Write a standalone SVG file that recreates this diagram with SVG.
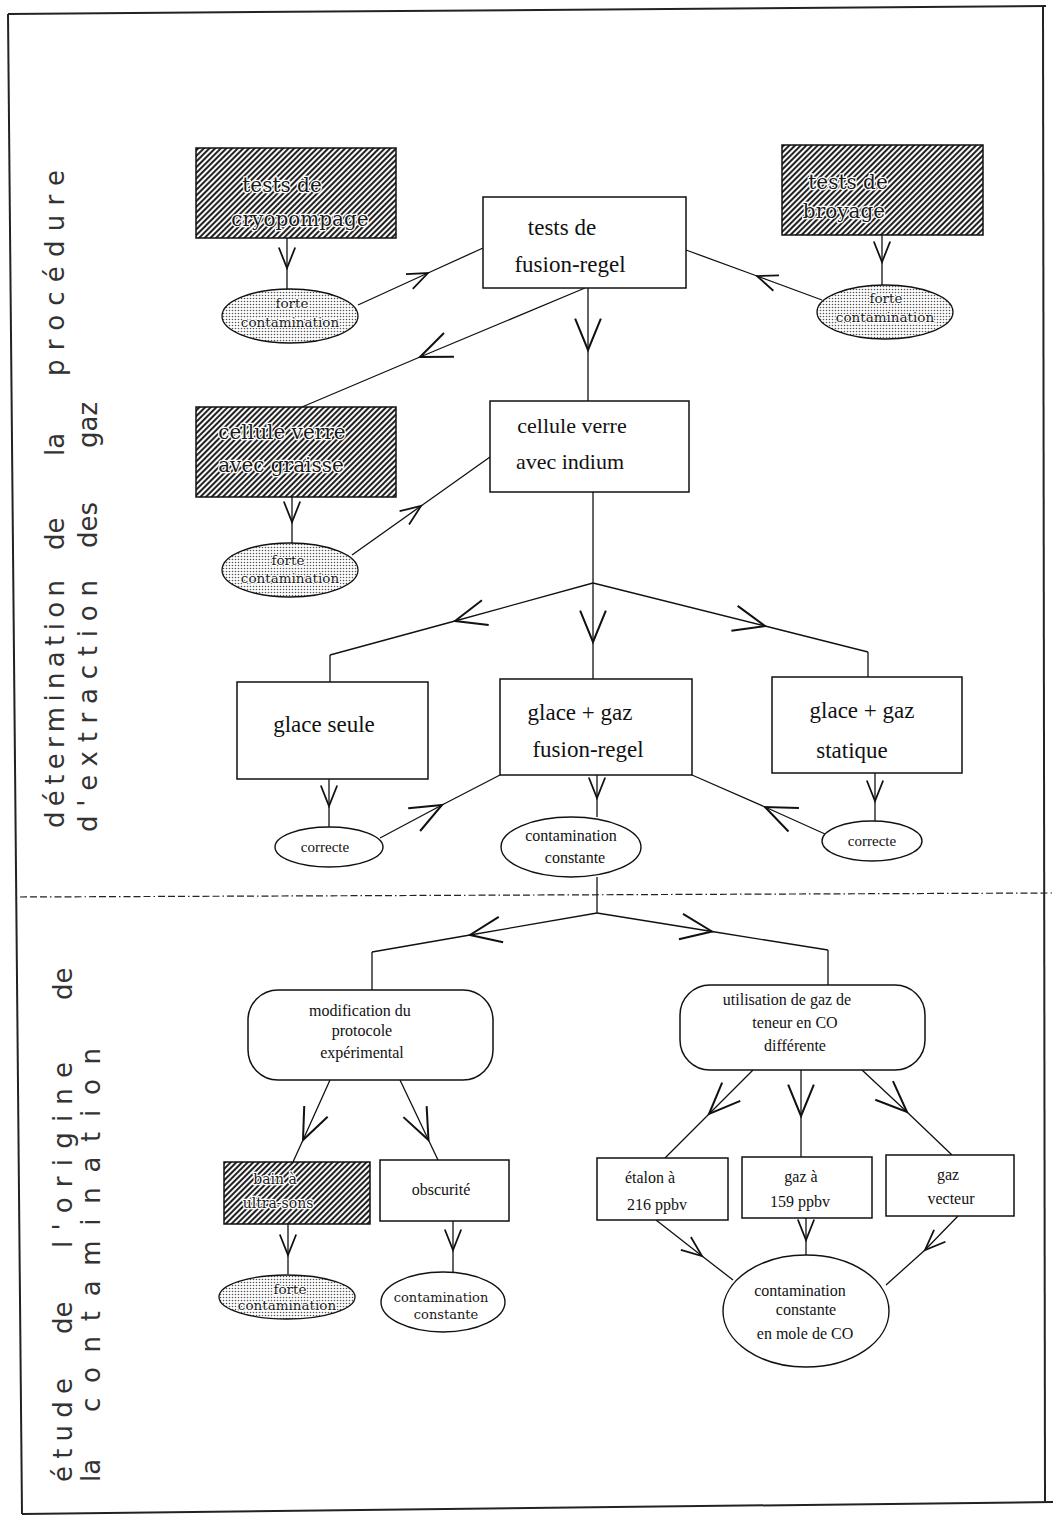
<svg xmlns="http://www.w3.org/2000/svg" width="1053" height="1517" viewBox="0 0 1053 1517">
<defs>
<pattern id="hatch" patternUnits="userSpaceOnUse" width="4" height="4" patternTransform="rotate(45)">
<rect width="4" height="4" fill="#fff"/>
<line x1="1" y1="0" x2="1" y2="4" stroke="#222" stroke-width="2.1"/>
</pattern>
<pattern id="dots" patternUnits="userSpaceOnUse" width="3" height="3">
<rect width="3" height="3" fill="#fff"/>
<circle cx="1.5" cy="1.5" r="0.8" fill="#555"/>
</pattern>
<marker id="v" markerUnits="userSpaceOnUse" markerWidth="30" markerHeight="30" refX="0" refY="0" viewBox="-20 -10 22 20" orient="auto" overflow="visible">
<path d="M-15,-6 L0,0 L-15,6" fill="none" stroke="#111" stroke-width="1.3"/>
</marker>
<marker id="vl" markerUnits="userSpaceOnUse" markerWidth="40" markerHeight="40" refX="0" refY="0" viewBox="-26 -12 28 24" orient="auto" overflow="visible">
<path d="M-22,-9 L0,0 L-22,9" fill="none" stroke="#111" stroke-width="1.4"/>
</marker>
</defs>
<style>
.box{fill:#fff;stroke:#111;stroke-width:1.5}
.hbox{fill:url(#hatch);stroke:#111;stroke-width:1.5}
.dell{fill:url(#dots);stroke:#111;stroke-width:1.3}
.ell{fill:#fff;stroke:#111;stroke-width:1.4}
.t{font-family:"Liberation Serif","Times New Roman",serif;fill:#111;text-anchor:middle}
.tw{font-family:"DejaVu Serif","Liberation Serif",serif;fill:#1a1a1a;text-anchor:middle;stroke:#fff;stroke-width:2.5;paint-order:stroke;stroke-linejoin:round}
.td{font-family:"DejaVu Serif","Liberation Serif",serif;fill:#1a1a1a;text-anchor:middle;stroke:#fff;stroke-width:2;paint-order:stroke;stroke-linejoin:round}
.side{font-family:"DejaVu Sans","Open Sans",sans-serif;font-size:26px;fill:#333}
.c{fill:none;stroke:#111;stroke-width:1.3}
.a{marker-mid:url(#v)}
.al{marker-mid:url(#vl)}
</style>

<g id="frame" fill="none" stroke="#222" stroke-width="2">
<path d="M8,14 L1046,6"/>
<path d="M8,14 L22,1514"/>
<path d="M1043,6 L1045,1503"/>
<path d="M22,1514 L1053,1502"/>
<path d="M20,897 L1053,893" stroke-width="1.2" stroke-dasharray="7 3 7 3 7 3 1.5 3"/>
</g>

<g id="side-labels" class="side">
<text transform="translate(64,828) rotate(-90)" textLength="248" lengthAdjust="spacing">détermination</text>
<text transform="translate(64,550) rotate(-90)">de</text>
<text transform="translate(64,456) rotate(-90)">la</text>
<text transform="translate(64,376) rotate(-90)" textLength="206" lengthAdjust="spacing">procédure</text>
<text transform="translate(97,832) rotate(-90)" textLength="252" lengthAdjust="spacing">d'extraction</text>
<text transform="translate(97,548) rotate(-90)">des</text>
<text transform="translate(97,448) rotate(-90)">gaz</text>
<text transform="translate(72,1482) rotate(-90)" textLength="104" lengthAdjust="spacing">étude</text>
<text transform="translate(72,1334) rotate(-90)">de</text>
<text transform="translate(72,1248) rotate(-90)" textLength="186" lengthAdjust="spacing">l'origine</text>
<text transform="translate(72,1000) rotate(-90)">de</text>
<text transform="translate(100,1482) rotate(-90)">la</text>
<text transform="translate(100,1412) rotate(-90)" textLength="364" lengthAdjust="spacing">contamination</text>
</g>

<g id="connectors">
<path class="c a" d="M287,238 L287,268 L287,290"/>
<path class="c a" d="M358,305 L428,273 L483,248"/>
<path class="c a" d="M882,235 L882,262 L882,285"/>
<path class="c a" d="M822,300 L757,276 L686,250"/>
<path class="c al" d="M588,288 L588,350 L588,401"/>
<path class="c al" d="M585,288 L420,357 L302,407"/>
<path class="c a" d="M292,497 L292,522 L292,543"/>
<path class="c a" d="M352,555 L421,506 L490,457"/>
<path class="c" d="M593,492 L593,583"/>
<path class="c al" d="M593,583 L593,642 L593,680"/>
<path class="c al" d="M593,583 L455,621 L330,655"/>
<path class="c" d="M330,655 L330,682"/>
<path class="c al" d="M593,583 L765,626 L868,652"/>
<path class="c" d="M868,652 L868,677"/>
<path class="c a" d="M329,779 L329,806 L329,827"/>
<path class="c al" d="M380,838 L442,805 L500,775"/>
<path class="c a" d="M597,775 L597,798 L597,817"/>
<path class="c al" d="M825,834 L765,807 L692,775"/>
<path class="c a" d="M875,773 L875,801 L875,821"/>
<path class="c" d="M597,877 L597,913"/>
<path class="c al" d="M597,913 L470,935 L372,952"/>
<path class="c" d="M372,952 L372,990"/>
<path class="c al" d="M597,913 L712,931.5 L828,950"/>
<path class="c" d="M828,950 L828,985"/>
<path class="c al" d="M330,1080 L303,1140 L293,1162"/>
<path class="c al" d="M400,1080 L428.5,1140 L438,1160"/>
<path class="c a" d="M288,1224 L288,1255 L288,1274"/>
<path class="c a" d="M453,1221 L453,1250 L453,1272"/>
<path class="c al" d="M753,1070 L709,1114 L665,1158"/>
<path class="c al" d="M801,1070 L801,1116 L801,1157"/>
<path class="c al" d="M862,1070 L907,1112 L952,1155"/>
<path class="c a" d="M656,1220 L702,1256 L733,1280"/>
<path class="c a" d="M806,1218 L806,1240 L806,1255"/>
<path class="c a" d="M958,1216 L925,1250 L886,1285"/>
</g>

<g id="n-cryo">
<rect class="hbox" x="196" y="148" width="200" height="90"/>
<text class="tw" x="282" y="192" font-size="20">tests de</text>
<text class="tw" x="300" y="226" font-size="20">cryopompage</text>
</g>
<g id="n-fc1">
<ellipse class="dell" cx="290" cy="316" rx="68" ry="27"/>
<text class="td" x="292" y="308" font-size="13.5">forte</text>
<text class="td" x="290" y="327" font-size="13.5">contamination</text>
</g>
<g id="n-fusion">
<rect class="box" x="483" y="197" width="203" height="91"/>
<text class="t" x="562" y="235" font-size="23">tests de</text>
<text class="t" x="570" y="272" font-size="23">fusion-regel</text>
</g>
<g id="n-broyage">
<rect class="hbox" x="782" y="145" width="201" height="90"/>
<text class="tw" x="848" y="189" font-size="20">tests de</text>
<text class="tw" x="844" y="218" font-size="20">broyage</text>
</g>
<g id="n-fc2">
<ellipse class="dell" cx="885" cy="312" rx="68" ry="27"/>
<text class="td" x="886" y="303" font-size="13.5">forte</text>
<text class="td" x="885" y="322" font-size="13.5">contamination</text>
</g>
<g id="n-graisse">
<rect class="hbox" x="196" y="407" width="200" height="90"/>
<text class="tw" x="282" y="439" font-size="20">cellule verre</text>
<text class="tw" x="281" y="472" font-size="20">avec graisse</text>
</g>
<g id="n-fc3">
<ellipse class="dell" cx="290" cy="570" rx="68" ry="27"/>
<text class="td" x="288" y="565" font-size="13.5">forte</text>
<text class="td" x="290" y="583" font-size="13.5">contamination</text>
</g>
<g id="n-indium">
<rect class="box" x="490" y="401" width="199" height="91"/>
<text class="t" x="572" y="433" font-size="22">cellule verre</text>
<text class="t" x="570" y="469" font-size="22">avec indium</text>
</g>
<g id="n-seule">
<rect class="box" x="237" y="682" width="191" height="97"/>
<text class="t" x="324" y="732" font-size="23">glace seule</text>
</g>
<g id="n-gfr">
<rect class="box" x="500" y="679" width="192" height="96"/>
<text class="t" x="580" y="720" font-size="23">glace + gaz</text>
<text class="t" x="588" y="757" font-size="23">fusion-regel</text>
</g>
<g id="n-gst">
<rect class="box" x="772" y="677" width="190" height="96"/>
<text class="t" x="862" y="718" font-size="23">glace + gaz</text>
<text class="t" x="852" y="758" font-size="23">statique</text>
</g>
<g id="n-cor1">
<ellipse class="ell" cx="329" cy="847" rx="54" ry="20"/>
<text class="t" x="325" y="852" font-size="15">correcte</text>
</g>
<g id="n-cc1">
<ellipse class="ell" cx="571" cy="847" rx="70" ry="30"/>
<text class="t" x="571" y="841" font-size="16">contamination</text>
<text class="t" x="575" y="863" font-size="16">constante</text>
</g>
<g id="n-cor2">
<ellipse class="ell" cx="872" cy="841" rx="50" ry="20"/>
<text class="t" x="872" y="846" font-size="15">correcte</text>
</g>
<g id="n-modif">
<rect class="box" x="248" y="990" width="245" height="90" rx="30"/>
<text class="t" x="360" y="1016" font-size="16">modification du</text>
<text class="t" x="362" y="1036" font-size="16">protocole</text>
<text class="t" x="362" y="1058" font-size="16">expérimental</text>
</g>
<g id="n-util">
<rect class="box" x="680" y="985" width="245" height="85" rx="30"/>
<text class="t" x="787" y="1005" font-size="16">utilisation de gaz de</text>
<text class="t" x="795" y="1028" font-size="16">teneur en CO</text>
<text class="t" x="795" y="1051" font-size="16">différente</text>
</g>
<g id="n-bain">
<rect class="hbox" x="224" y="1162" width="146" height="62"/>
<text class="tw" x="275" y="1184" font-size="14">bain à</text>
<text class="tw" x="278" y="1208" font-size="14">ultra-sons</text>
</g>
<g id="n-obsc">
<rect class="box" x="380" y="1160" width="129" height="61"/>
<text class="t" x="441" y="1195" font-size="16">obscurité</text>
</g>
<g id="n-fc4">
<ellipse class="dell" cx="287" cy="1297" rx="68" ry="22"/>
<text class="td" x="290" y="1294" font-size="13.5">forte</text>
<text class="td" x="287" y="1310" font-size="13.5">contamination</text>
</g>
<g id="n-cc2">
<ellipse class="ell" cx="443" cy="1302" rx="62" ry="30"/>
<text class="td" x="441" y="1302" font-size="13">contamination</text>
<text class="td" x="446" y="1319" font-size="13">constante</text>
</g>
<g id="n-etalon">
<rect class="box" x="597" y="1158" width="131" height="62"/>
<text class="t" x="650" y="1183" font-size="16">étalon à</text>
<text class="t" x="657" y="1210" font-size="16">216 ppbv</text>
</g>
<g id="n-gaz159">
<rect class="box" x="742" y="1157" width="130" height="61"/>
<text class="t" x="801" y="1182" font-size="16">gaz à</text>
<text class="t" x="800" y="1207" font-size="16">159 ppbv</text>
</g>
<g id="n-vecteur">
<rect class="box" x="886" y="1155" width="128" height="61"/>
<text class="t" x="948" y="1180" font-size="16">gaz</text>
<text class="t" x="951" y="1204" font-size="16">vecteur</text>
</g>
<g id="n-ccmole">
<ellipse class="ell" cx="806" cy="1311" rx="83" ry="56"/>
<text class="t" x="800" y="1296" font-size="16">contamination</text>
<text class="t" x="806" y="1315" font-size="16">constante</text>
<text class="t" x="805" y="1339" font-size="16">en mole de CO</text>
</g>
</svg>
